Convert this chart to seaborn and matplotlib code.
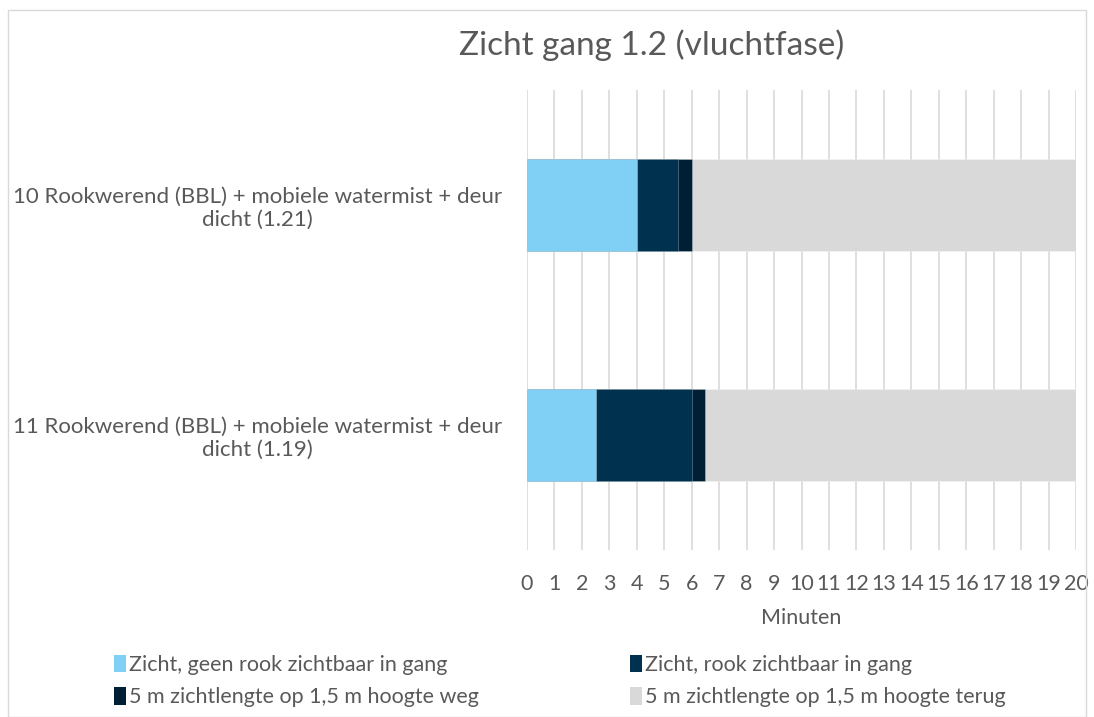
import numpy as np
import pandas as pd
import matplotlib.pyplot as plt
import seaborn as sns
from matplotlib.patches import Rectangle, Patch

categories = ["10 Rookwerend (BBL) + mobiele watermist + deur\ndicht (1.21)",
              "11 Rookwerend (BBL) + mobiele watermist + deur\ndicht (1.19)"]
series = ["Zicht, geen rook zichtbaar in gang",
          "Zicht, rook zichtbaar in gang",
          "5 m zichtlengte op 1,5 m hoogte weg",
          "5 m zichtlengte op 1,5 m hoogte terug"]
geen_rook = [4.0, 2.5]
rook = [1.5, 3.5]
weg = [0.5, 0.5]
terug = [14.0, 13.5]
colors = ["#7FD0F4", "#003250", "#001F35", "#D9D9D9"]

sns.set_style("white")
plt.rcParams['font.family'] = ['Lato', 'DejaVu Sans']
text_col = "#595959"

df = pd.DataFrame({"cat": categories, series[0]: geen_rook, series[1]: rook,
                   series[2]: weg, series[3]: terug})
cum = df[series].cumsum(axis=1)

fig = plt.figure(figsize=(10.94, 7.17), dpi=100)
ax = fig.add_axes([527/1094, 1-550/717, 549/1094, 460/717])

# draw cumulative totals from longest to shortest so they stack visually
for s, c in reversed(list(zip(series, colors))):
    sns.barplot(x=cum[s], y=df["cat"], color=c, width=0.4, orient="h", saturation=1,
                edgecolor=(1, 1, 1, 0.3), linewidth=0.6, ax=ax, zorder=3)

ax.set_xlim(0, 20)
ax.set_ylim(1.5, -0.5)
ax.set_xticks(range(0, 21))
ax.xaxis.grid(True, color="#D9D9D9", linewidth=1.2, zorder=0)
ax.set_axisbelow(True)
for sp in ax.spines.values():
    sp.set_visible(False)
ax.tick_params(axis="x", length=0, pad=17, labelsize=15.5, labelcolor=text_col)
ax.tick_params(axis="y", length=0, pad=18, labelsize=16, labelcolor=text_col)
for lbl in ax.get_yticklabels():
    lbl.set_multialignment("center")
ax.set_xlabel("Minuten", fontsize=15.5, color=text_col, labelpad=10)
ax.set_ylabel("")

fig.text(652/1094, 1-45/717, "Zicht gang 1.2 (vluchtfase)", ha="center", va="center",
         fontsize=24, color=text_col)

# legend is filled row by row in the reference
order = [0, 2, 1, 3]
handles = [Patch(facecolor=colors[i], edgecolor="none") for i in order]
labels = [series[i] for i in order]
fig.legend(handles, labels, loc="center left", bbox_to_anchor=(95/1094, 1-681/717),
           ncol=2, frameon=False, fontsize=15.5, labelcolor=text_col,
           handlelength=0.55, handleheight=0.85, handletextpad=0.15,
           columnspacing=7.0, labelspacing=0.6)

fig.patches.append(Rectangle((8/1094, 0), 1 - 16/1094, 1 - 10/717, transform=fig.transFigure,
                             fill=False, edgecolor="#D9D9D9", linewidth=1))

fig.savefig("out.png", dpi=100)
